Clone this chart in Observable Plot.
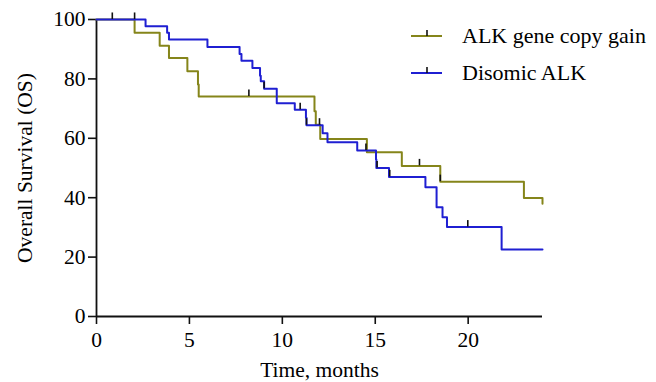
<!DOCTYPE html>
<html>
<head>
<meta charset="utf-8">
<script src="https://cdn.jsdelivr.net/npm/d3@7"></script>
<script src="https://cdn.jsdelivr.net/npm/@observablehq/plot@0.6"></script>
<style>
  html, body { margin: 0; padding: 0; background: #fff; }
  #chart { position: relative; width: 656px; height: 382px; }
  svg { font-family: "Liberation Serif", "Times New Roman", serif; }
</style>
</head>
<body>
<div id="chart"></div>
<script>
// ALK gene copy gain (olive)
const copyGainTime = [0, 2.05, 3.4, 3.9, 4.89, 5.46, 5.5, 11.73, 11.8, 12.04, 14.55, 16.43, 18.5, 23.0, 24.0];
const copyGainSurv = [100, 95.5, 91.2, 87.0, 82.6, 78.1, 74.1, 69.1, 64.6, 59.8, 55.3, 50.7, 45.4, 39.9, 38.0];
// Disomic ALK (blue)
const disomicTime = [0, 2.64, 3.8, 3.9, 5.97, 7.7, 7.8, 8.39, 8.8, 8.84, 9.02, 9.7, 10.67, 11.27, 11.3, 12.17, 12.43, 14.03, 15.04, 15.06, 15.74, 17.7, 18.3, 18.62, 18.86, 21.8, 24.0];
const disomicSurv = [100, 97.7, 95.5, 93.3, 90.7, 88.4, 86.1, 83.7, 81.1, 79.2, 76.7, 71.8, 69.6, 66.9, 64.4, 61.7, 58.7, 55.9, 52.9, 50.0, 47.0, 43.5, 36.8, 33.4, 30.1, 22.6, 22.6];
// Censored observations
const censorTime = [0.85, 2.05, 8.2, 9.02, 10.96, 11.3, 12.0, 14.5, 15.1, 15.78, 17.38, 18.5, 19.98];
const censorSurv = [100, 100, 74.1, 76.7, 69.6, 64.4, 64.4, 55.9, 50.0, 47.0, 50.7, 45.4, 30.1];
// Axis ticks and labels
const xTicks = [0, 5, 10, 15, 20];
const yTicks = [0, 20, 40, 60, 80, 100];
const seriesNames = ["ALK gene copy gain", "Disomic ALK"];
const seriesColors = ["#85851a", "#1f1fd2"];

const copyGain = copyGainTime.map((t, i) => ({t, s: copyGainSurv[i]}));
const disomic = disomicTime.map((t, i) => ({t, s: disomicSurv[i]}));
const censor = censorTime.map((t, i) => ({t, s: censorSurv[i]}));

const W = 656, H = 382;
const plot = Plot.plot({
  width: W,
  height: H,
  marginLeft: 96,
  marginRight: 114,
  marginTop: 19,
  marginBottom: 66,
  style: {fontFamily: "Liberation Serif", fontSize: "21px", background: "#fff", color: "#000"},
  x: {domain: [0, 24]},
  y: {domain: [0, 100]},
  marks: [
    Plot.axisX({ticks: xTicks, tickSize: 8, tickPadding: 7, tickFormat: d => d, fontSize: 21.5,
      stroke: "#111", strokeWidth: 1.6,
      label: "Time, months", labelAnchor: "center", labelArrow: "none", labelOffset: 60}),
    Plot.axisY({ticks: yTicks, tickSize: 8, tickPadding: 3, tickFormat: d => d, fontSize: 21.5,
      stroke: "#111", strokeWidth: 1.6,
      label: "Overall Survival (OS)", labelAnchor: "center", labelArrow: "none", labelOffset: 80}),
    Plot.ruleY([0], {stroke: "#111", strokeWidth: 1.8}),
    Plot.ruleX([0], {stroke: "#111", strokeWidth: 1.8}),
    Plot.line(copyGain, {x: "t", y: "s", curve: "step-after", stroke: seriesColors[0], strokeWidth: 2}),
    Plot.line(disomic, {x: "t", y: "s", curve: "step-after", stroke: seriesColors[1], strokeWidth: 2}),
    Plot.ruleX(censor, {x: "t", y1: "s", y2: d => d.s + 2.2, stroke: "#111", strokeWidth: 1.6})
  ]
});
document.getElementById("chart").appendChild(plot);

// Legend drawn inside the SVG, top right
const svg = d3.select(plot);
const lg = svg.append("g").attr("font-family", "Liberation Serif").attr("font-size", 22)
  .attr("text-anchor", "start");
seriesNames.forEach((name, i) => {
  const y = 36 + i * 37;
  lg.append("line").attr("x1", 411).attr("x2", 442).attr("y1", y).attr("y2", y)
    .attr("stroke", seriesColors[i]).attr("stroke-width", 2);
  lg.append("line").attr("x1", 427).attr("x2", 427).attr("y1", y - 6).attr("y2", y)
    .attr("stroke", "#111").attr("stroke-width", 1.6);
  lg.append("text").attr("x", 462).attr("y", y + 7).attr("text-anchor", "start")
    .attr("fill", "#000").text(name);
});
</script>
</body>
</html>
